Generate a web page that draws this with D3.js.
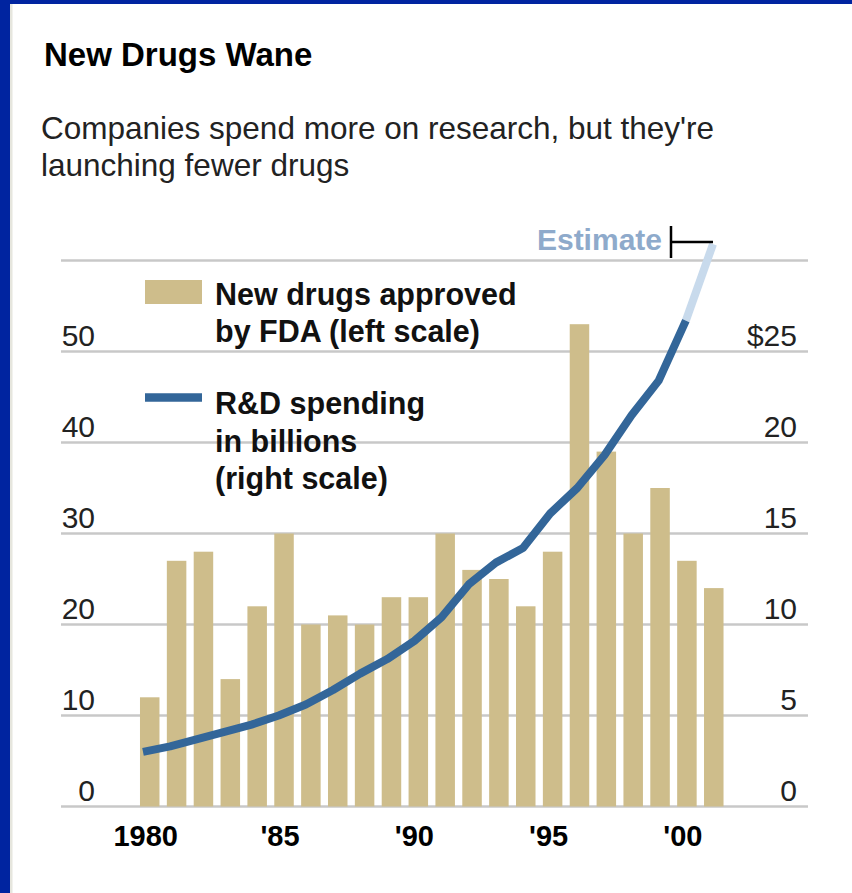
<!DOCTYPE html>
<html>
<head>
<meta charset="utf-8">
<script src="https://cdn.jsdelivr.net/npm/d3@7/dist/d3.min.js"></script>
<style>
  html, body { margin: 0; padding: 0; background: #fff; }
  svg { display: block; }
  text { font-family: "Liberation Sans", Arial, Helvetica, sans-serif; }
</style>
</head>
<body>
<svg id="chart" width="852" height="893"></svg>
<script>
// ---- data ----
const years = [1980, 1981, 1982, 1983, 1984, 1985, 1986, 1987, 1988, 1989, 1990,
               1991, 1992, 1993, 1994, 1995, 1996, 1997, 1998, 1999, 2000, 2001];
const drugsApproved = [12, 27, 28, 14, 22, 30, 20, 21, 20, 23, 23,
                       30, 26, 25, 22, 28, 53, 39, 30, 35, 27, 24];
const rdSpending = [3.0, 3.3, 3.7, 4.1, 4.5, 5.0, 5.6, 6.4, 7.3, 8.1, 9.1,
                    10.4, 12.2, 13.4, 14.2, 16.1, 17.5, 19.3, 21.5, 23.4, 26.7, 30.9];
const estimateYears = [2000, 2001];
const leftTicks = [0, 10, 20, 30, 40, 50];
const rightTicks = [0, 5, 10, 15, 20, 25];
const gridTicks = [0, 10, 20, 30, 40, 50, 60];
const xTickYears = [1980, 1985, 1990, 1995, 2000];
const xTickLabels = ["1980", "'85", "'90", "'95", "'00"];

const title = "New Drugs Wane";
const subtitle = ["Companies spend more on research, but they're", "launching fewer drugs"];
const legendBars = ["New drugs approved", "by FDA (left scale)"];
const legendLine = ["R&D spending", "in billions", "(right scale)"];

// ---- styles ----
const TAN = "#cebd8b";
const BLUE = "#336699";
const LIGHTBLUE = "#c8daec";
const GRID = "#c8c8c8";

const svg = d3.select("#chart");

svg.append("rect").attr("width", 852).attr("height", 893).attr("fill", "#fff");
// frame
svg.append("rect").attr("x", 0).attr("y", 0).attr("width", 10).attr("height", 893).attr("fill", "#0024a0");
svg.append("rect").attr("x", 10).attr("y", 0).attr("width", 2.5).attr("height", 893).attr("fill", "#e6e6de");
svg.append("rect").attr("x", 0).attr("y", 0).attr("width", 852).attr("height", 4).attr("fill", "#0024a0");

// scales
const yLeft = d3.scaleLinear().domain([0, 60]).range([806.5, 260.5]);
const yRight = d3.scaleLinear().domain([0, 30]).range([806.5, 260.5]);
const x = d3.scaleBand().domain(years).range([136.3, 727.2]).paddingInner(0.274).paddingOuter(0.137);
const xLine = d3.scalePoint().domain(years).range([143, 713]);

// title
svg.append("text").attr("x", 44).attr("y", 66)
  .attr("font-size", 33).attr("font-weight", "bold").attr("fill", "#000")
  .text(title);
svg.append("g").selectAll("text").data(subtitle).join("text")
  .attr("x", 41).attr("y", (d, i) => 139 + i * 37)
  .attr("font-size", 31.5).attr("fill", "#222")
  .text(d => d);

// gridlines
svg.append("g").selectAll("line").data(gridTicks).join("line")
  .attr("x1", 61).attr("x2", 808)
  .attr("y1", d => yLeft(d)).attr("y2", d => yLeft(d))
  .attr("stroke", GRID).attr("stroke-width", 2.5);

// bars
svg.append("g").selectAll("rect").data(years).join("rect")
  .attr("x", d => x(d))
  .attr("width", x.bandwidth())
  .attr("y", (d, i) => yLeft(drugsApproved[i]))
  .attr("height", (d, i) => yLeft(0) - yLeft(drugsApproved[i]))
  .attr("fill", TAN);

// axes
const leftAxis = svg.append("g").attr("transform", "translate(95,0)")
  .call(d3.axisLeft(yLeft).tickValues(leftTicks).tickSize(0).tickPadding(0));
leftAxis.select(".domain").remove();
leftAxis.selectAll("text").attr("dy", null).attr("y", -6).attr("x", 0)
  .attr("font-size", 30).attr("fill", "#222").attr("font-family", null);

const rightAxis = svg.append("g").attr("transform", "translate(797,0)")
  .call(d3.axisRight(yRight).tickValues(rightTicks).tickSize(0).tickPadding(0)
    .tickFormat(d => d === 25 ? "$25" : String(d)));
rightAxis.select(".domain").remove();
rightAxis.selectAll("text").attr("dy", null).attr("y", -6).attr("x", 0)
  .attr("text-anchor", "end")
  .attr("font-size", 30).attr("fill", "#222").attr("font-family", null);

const bottomAxis = svg.append("g").attr("transform", "translate(0,806.5)")
  .call(d3.axisBottom(x).tickValues(xTickYears).tickSize(0).tickPadding(0)
    .tickFormat(d => xTickLabels[xTickYears.indexOf(d)]));
bottomAxis.select(".domain").remove();
bottomAxis.selectAll("text").attr("dy", null).attr("y", 39).attr("x", -4)
  .attr("font-size", 29).attr("font-weight", "bold").attr("fill", "#000").attr("font-family", null);

// line
const line = d3.line().x(d => xLine(d.year)).y(d => yRight(d.value));
const rdData = years.map((yr, i) => ({ year: yr, value: rdSpending[i] }));
const actual = rdData.filter(d => d.year <= 2000);
const est = rdData.filter(d => estimateYears.includes(d.year));
svg.append("path").datum(est).attr("d", line)
  .attr("fill", "none").attr("stroke", LIGHTBLUE).attr("stroke-width", 8);
svg.append("path").datum(actual).attr("d", line)
  .attr("fill", "none").attr("stroke", BLUE).attr("stroke-width", 8)
  .attr("stroke-linejoin", "round");

// estimate label + bracket
const estX = xLine(2001);
const estY = yRight(rdSpending[rdSpending.length - 1]);
svg.append("text").attr("x", estX - 51).attr("y", estY + 6)
  .attr("text-anchor", "end").attr("font-size", 30).attr("font-weight", "bold")
  .attr("fill", "#8eaacb").text("Estimate");
svg.append("path")
  .attr("d", `M${estX - 42},${estY - 18}V${estY + 14}M${estX - 42},${estY - 2}H${estX}`)
  .attr("fill", "none").attr("stroke", "#000").attr("stroke-width", 2.5);

// legend
svg.append("rect").attr("x", 145).attr("y", 280).attr("width", 57).attr("height", 24).attr("fill", TAN);
svg.append("g").selectAll("text").data(legendBars).join("text")
  .attr("x", 215).attr("y", (d, i) => 305 + i * 37)
  .attr("font-size", 30.5).attr("font-weight", "bold").attr("fill", "#111")
  .text(d => d);
svg.append("line").attr("x1", 145).attr("x2", 202).attr("y1", 397.5).attr("y2", 397.5)
  .attr("stroke", BLUE).attr("stroke-width", 8.5);
svg.append("g").selectAll("text").data(legendLine).join("text")
  .attr("x", 215).attr("y", (d, i) => 414 + i * 37.5)
  .attr("font-size", 30.5).attr("font-weight", "bold").attr("fill", "#111")
  .text(d => d);
</script>
</body>
</html>
